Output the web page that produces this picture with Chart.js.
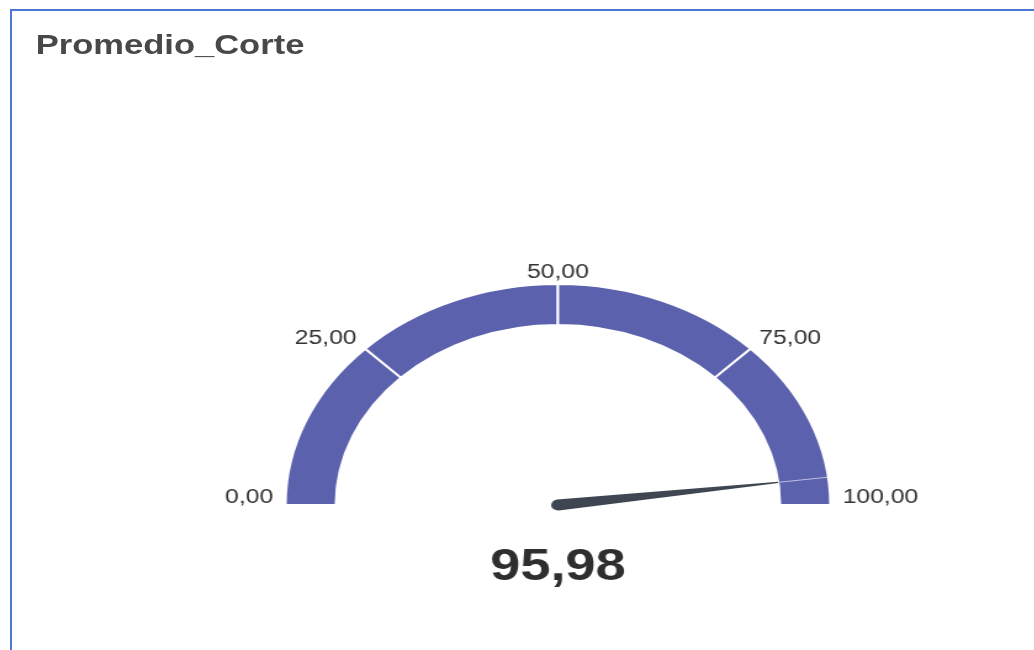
<!DOCTYPE html>
<html>
<head>
<meta charset="utf-8">
<script src="https://cdn.jsdelivr.net/npm/chart.js@4"></script>
<style>
  html, body { margin: 0; padding: 0; background: #fff; width: 1034px; height: 650px; overflow: hidden; }
  #frame {
    position: absolute; left: 10px; top: 9px; width: 1100px; height: 700px;
    border-top: 2px solid #4a78cf; border-left: 2px solid #4a78cf;
  }
  #wrap {
    position: absolute; left: 0; top: 0; width: 839px; height: 650px;
    transform: scaleX(1.233); transform-origin: 0 0;
  }
  #title {
    position: absolute; left: 29px; top: 29px; margin: 0;
    font: bold 28px "Liberation Sans", Arial, sans-serif; color: #484848;
  }
  canvas { position: absolute; left: 0; top: 0; }
</style>
</head>
<body>
<div id="frame"></div>
<div id="wrap">
  <h1 id="title">Promedio_Corte</h1>
  <canvas id="gauge" width="839" height="650" style="width:839px;height:650px"></canvas>
</div>
<script>
const bandValues = [25, 25, 25, 25];
const tickValues = [0, 25, 50, 75, 100];
const tickLabels = ['0,00', '25,00', '50,00', '75,00', '100,00'];
const gaugeMin = 0;
const gaugeMax = 100;
const gaugeValue = 95.98;
const valueLabel = '95,98';

const gaugeColor = '#5b61ad';

// needle, tick labels and value text drawn on top of the doughnut
const gaugeExtras = {
  id: 'gaugeExtras',
  afterDatasetsDraw(chart) {
    const ctx = chart.ctx;
    const arcs = chart.getDatasetMeta(0).data;
    const first = arcs[0].getProps(['x', 'y', 'startAngle', 'innerRadius', 'outerRadius'], true);
    const last = arcs[arcs.length - 1].getProps(['endAngle'], true);
    const { x, y, innerRadius, outerRadius } = first;
    const toAngle = v => first.startAngle + (v - gaugeMin) / (gaugeMax - gaugeMin) * (last.endAngle - first.startAngle);

    // tick labels
    ctx.save();
    ctx.font = '20px "Liberation Sans", Arial, sans-serif';
    ctx.fillStyle = '#333';
    ctx.textBaseline = 'alphabetic';
    const rx = outerRadius + 10;
    const ry = outerRadius + 4;
    tickValues.forEach((v, i) => {
      const a = toAngle(v);
      const c = Math.cos(a);
      ctx.textAlign = c < -0.1 ? 'right' : (c > 0.1 ? 'left' : 'center');
      ctx.fillText(tickLabels[i], x + rx * c, y + ry * Math.sin(a) - 2);
    });
    ctx.restore();

    // faint marker across the band at the value
    const va = toAngle(gaugeValue);
    ctx.save();
    ctx.strokeStyle = 'rgba(255,255,255,0.6)';
    ctx.lineWidth = 1;
    ctx.beginPath();
    ctx.moveTo(x + innerRadius * Math.cos(va), y + innerRadius * Math.sin(va));
    ctx.lineTo(x + outerRadius * Math.cos(va), y + outerRadius * Math.sin(va));
    ctx.stroke();
    ctx.restore();

    // needle
    const base = 5.5;
    ctx.save();
    ctx.translate(x, y);
    ctx.rotate(va);
    ctx.fillStyle = '#3e4651';
    ctx.beginPath();
    ctx.moveTo(0, -base);
    ctx.lineTo(innerRadius, -0.6);
    ctx.lineTo(innerRadius, 0.6);
    ctx.lineTo(0, base);
    ctx.arc(0, 0, base, Math.PI / 2, Math.PI * 1.5);
    ctx.closePath();
    ctx.fill();
    ctx.restore();

    // value
    ctx.save();
    ctx.font = 'bold 44px "Liberation Sans", Arial, sans-serif';
    ctx.fillStyle = '#2e2e2e';
    ctx.textAlign = 'center';
    ctx.textBaseline = 'alphabetic';
    ctx.fillText(valueLabel, x, y + 75);
    ctx.restore();
  }
};

new Chart(document.getElementById('gauge'), {
  type: 'doughnut',
  data: {
    labels: bandValues.map((v, i) => tickLabels[i]),
    datasets: [{
      data: bandValues,
      backgroundColor: gaugeColor,
      borderColor: '#ffffff',
      borderWidth: 2,
      hoverOffset: 0
    }]
  },
  options: {
    responsive: false,
    maintainAspectRatio: false,
    devicePixelRatio: 1,
    animation: false,
    events: [],
    rotation: -90,
    circumference: 180,
    cutout: '81.5%',
    layout: { padding: { top: 283, bottom: 144, left: 200, right: 134 } },
    plugins: {
      legend: { display: false },
      tooltip: { enabled: false },
      title: { display: false }
    }
  },
  plugins: [gaugeExtras]
});
</script>
</body>
</html>
